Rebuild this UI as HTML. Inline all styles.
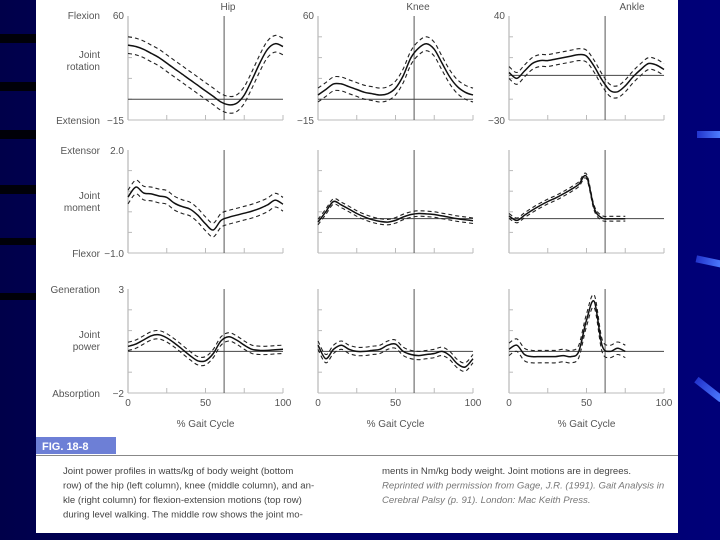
<!DOCTYPE html>
<html><head><meta charset="utf-8"><style>
body{margin:0;width:720px;height:540px;overflow:hidden;background:#00006a;font-family:"Liberation Sans",sans-serif}
#bg{position:absolute;left:0;top:0;width:720px;height:540px;background:linear-gradient(90deg,#00004a 0%,#000066 40%,#000078 100%)}
.bar{position:absolute;left:0;width:36px;height:9px;background:#000008}
.streak{position:absolute;height:7px;background:linear-gradient(90deg,#2233cc,#4d7bff);}
#page{position:absolute;left:36px;top:0;width:642px;height:533px;background:#fff}
svg text{font-family:"Liberation Sans",sans-serif;fill:#555}
</style></head><body>
<div id="bg"></div>
<div class="bar" style="top:34px"></div>
<div class="bar" style="top:82px"></div>
<div class="bar" style="top:130px"></div>
<div class="bar" style="top:185px"></div>
<div class="bar" style="top:238px;height:7px"></div>
<div class="bar" style="top:293px;height:7px"></div>
<div class="streak" style="left:697px;top:131px;width:23px"></div>
<div class="streak" style="left:696px;top:258px;width:26px;transform:rotate(12deg)"></div>
<div class="streak" style="left:693px;top:386px;width:32px;transform:rotate(38deg)"></div>
<div id="page"></div>
<svg id="chart" width="720" height="540" style="position:absolute;left:0;top:0"></svg>
<script>
// ---- data (x at 0,5,10,... % gait cycle) ----
const hipAngle=[39,38,36,33,30,26,22,18,14,10,6,2,-2,-4,-3,3,14,26,36,40,38];
const kneeAngle=[3,7,11,11,9,7,5,4,3,4,8,17,30,37,40,36,26,16,9,5,3];
const ankleAngle=[2,-2,3,8,10,10,11,12,13,14,13,6,-3,-10,-11,-7,-1,4,8,7,4];
const hipMoment=[0.63,0.92,0.75,0.72,0.66,0.62,0.45,0.35,0.28,0.1,-0.15,-0.33,-0.05,0.04,0.1,0.16,0.22,0.3,0.4,0.54,0.42];
const kneeMoment=[-0.1,0.2,0.5,0.4,0.28,0.15,0.05,-0.03,-0.08,-0.1,-0.05,0.05,0.12,0.15,0.14,0.12,0.08,0.04,0.0,-0.03,-0.06];
const ankleMoment=[0.08,-0.05,0.1,0.25,0.38,0.5,0.6,0.72,0.85,1.0,1.23,0.3,0.02,0.0,0.0,0.0];
const hipPower=[0.24,0.35,0.55,0.75,0.8,0.65,0.4,0.1,-0.2,-0.45,-0.45,-0.1,0.5,0.7,0.55,0.3,0.1,0.05,0.05,0.08,0.1];
const kneePower=[0.3,-0.35,0.1,0.3,0.1,0.0,0.0,0.05,0.1,0.3,0.35,0.0,-0.15,-0.2,-0.15,-0.1,0.0,-0.2,-0.6,-0.75,-0.35];
const anklePower=[0.1,0.3,-0.15,-0.25,-0.25,-0.25,-0.25,-0.2,-0.25,0.0,1.5,2.4,0.3,0.0,0.15,0.0];
const sdValues=[6,5,4,0.2,0.08,0.07,0.2,0.2,0.3];
const rowRanges=[[-15,60],[-1,2],[-2,3]];
const ankleRange0=[-30,40];
const xTicks=[0,50,100];
const toeOff=62;
const NS="http://www.w3.org/2000/svg";
const svg=document.getElementById('chart');
function mk(t,a,p){const e=document.createElementNS(NS,t);for(const k in a)e.setAttribute(k,a[k]);(p||svg).appendChild(e);return e;}
const colX=[128,318,509], W=155, rowY=[16,150,289], H=[104,103,104];
function smooth(pts){let d='M'+pts[0][0]+','+pts[0][1];for(let i=0;i<pts.length-1;i++){const p0=pts[Math.max(0,i-1)],p1=pts[i],p2=pts[i+1],p3=pts[Math.min(pts.length-1,i+2)];
d+=' C'+(p1[0]+(p2[0]-p0[0])/6).toFixed(1)+','+(p1[1]+(p2[1]-p0[1])/6).toFixed(1)+' '+(p2[0]-(p3[0]-p1[0])/6).toFixed(1)+','+(p2[1]-(p3[1]-p1[1])/6).toFixed(1)+' '+p2[0].toFixed(1)+','+p2[1].toFixed(1);}return d;}
const series=[[hipAngle,kneeAngle,ankleAngle],[hipMoment,kneeMoment,ankleMoment],[hipPower,kneePower,anklePower]];
const names=[['hip-angle','knee-angle','ankle-angle'],['hip-moment','knee-moment','ankle-moment'],['hip-power','knee-power','ankle-power']];
for(let r=0;r<3;r++)for(let c=0;c<3;c++){
  const range=(r==0&&c==2)?ankleRange0:rowRanges[r];
  const x0=colX[c],y0=rowY[r],h=H[r];
  const xs=v=>x0+v/100*W, ys=v=>y0+(range[1]-v)/(range[1]-range[0])*h;
  const g=mk('g',{});
  
  
  mk('line',{x1:x0,y1:y0,x2:x0,y2:y0+h,stroke:'#aaa','stroke-width':1},g);
  mk('line',{x1:x0,y1:y0+h,x2:x0+W,y2:y0+h,stroke:'#bbb','stroke-width':1},g);
  for(let k=1;k<5;k++){mk('line',{x1:x0,y1:y0+h*k/5,x2:x0+4,y2:y0+h*k/5,stroke:'#bbb'},g);}
  for(let k=1;k<=4;k++){const tx=x0+W*k/4;mk('line',{x1:tx,y1:y0+h,x2:tx,y2:y0+h-5,stroke:'#bbb'},g);}
  mk('line',{x1:xs(toeOff),y1:y0,x2:xs(toeOff),y2:y0+h,stroke:'#555','stroke-width':1},g);
  if(!(r==1&&c==0)) mk('line',{x1:x0,y1:ys(0),x2:x0+W,y2:ys(0),stroke:'#444','stroke-width':1},g);
  const d=series[r][c], sd=sdValues[r*3+c];
  const mean=d.map((v,i)=>[xs(i*5),ys(v)]);
  const up=d.map((v,i)=>[xs(i*5),ys(v+sd)]), lo=d.map((v,i)=>[xs(i*5),ys(v-sd)]);
  const pu=mk('path',{d:smooth(up),fill:'none',stroke:'#222','stroke-width':1.1,'stroke-dasharray':'4,3'},g);
  
  const pl=mk('path',{d:smooth(lo),fill:'none',stroke:'#222','stroke-width':1.1,'stroke-dasharray':'4,3'},g);
  
  const pm=mk('path',{d:smooth(mean),fill:'none',stroke:'#111','stroke-width':1.5},g);
  
  if(r==2){xTicks.forEach(t=>{const tt=mk('text',{x:xs(t),y:406,'font-size':10,'text-anchor':'middle'},g);tt.textContent=t;
    });
    const xt=mk('text',{x:x0+W*0.5,y:427,'font-size':10,'text-anchor':'middle'},g);xt.textContent='% Gait Cycle';
    }
}
function txt(x,y,s,anchor,size,name){const t=mk('text',{x:x,y:y,'font-size':size||10,'text-anchor':anchor||'end'});t.textContent=s;
return t;}
txt(228,10,'Hip','middle',10,'column-title-hip');txt(418,10,'Knee','middle',10,'column-title-knee');txt(632,10,'Ankle','middle',10,'column-title-ankle');
txt(100,19,'Flexion','end',10,'row1-top-label');txt(124,19,'60','end',10,'y-tick-label');
txt(100,58,'Joint','end',10,'row1-title');txt(100,70,'rotation','end',10,'row1-title');
txt(100,124,'Extension','end',10,'row1-bottom-label');txt(124,124,'−15','end',10,'y-tick-label');
txt(314,19,'60','end',10,'y-tick-label');txt(314,124,'−15','end',10,'y-tick-label');
txt(505,19,'40','end',10,'y-tick-label');txt(505,124,'−30','end',10,'y-tick-label');
txt(100,154,'Extensor','end',10,'row2-top-label');txt(124,154,'2.0','end',10,'y-tick-label');
txt(100,199,'Joint','end',10,'row2-title');txt(100,211,'moment','end',10,'row2-title');
txt(100,257,'Flexor','end',10,'row2-bottom-label');txt(124,257,'−1.0','end',10,'y-tick-label');
txt(100,293,'Generation','end',10,'row3-top-label');txt(124,293,'3','end',10,'y-tick-label');
txt(100,338,'Joint','end',10,'row3-title');txt(100,350,'power','end',10,'row3-title');
txt(100,397,'Absorption','end',10,'row3-bottom-label');txt(124,397,'−2','end',10,'y-tick-label');
const fb=mk('rect',{x:36,y:437,width:80,height:17,fill:'#6d7fd6'});

const ft=mk('text',{x:42,y:450,'font-size':11,'font-weight':'bold',style:'fill:#fff'});ft.textContent='FIG. 18-8';

const sep=mk('line',{x1:36,y1:455.5,x2:678,y2:455.5,stroke:'#888','stroke-width':1});

const capL=['Joint power profiles in watts/kg of body weight (bottom','row) of the hip (left column), knee (middle column), and an-','kle (right column) for flexion-extension motions (top row)','during level walking. The middle row shows the joint mo-'];
const capR=['ments in Nm/kg body weight. Joint motions are in degrees.','Reprinted with permission from Gage, J.R. (1991). Gait Analysis in','Cerebral Palsy (p. 91). London: Mac Keith Press.'];
capL.forEach((s,i)=>{const t=txt(63,474+i*14.5,s,'start',9.6,'caption-text');t.style.fill='#444';});
capR.forEach((s,i)=>{const t=txt(382,474+i*14.5,s,'start',9.6,'caption-text');t.style.fill=i==0?'#444':'#777';if(i>0)t.setAttribute('font-style','italic');});
</script>
</body></html>
